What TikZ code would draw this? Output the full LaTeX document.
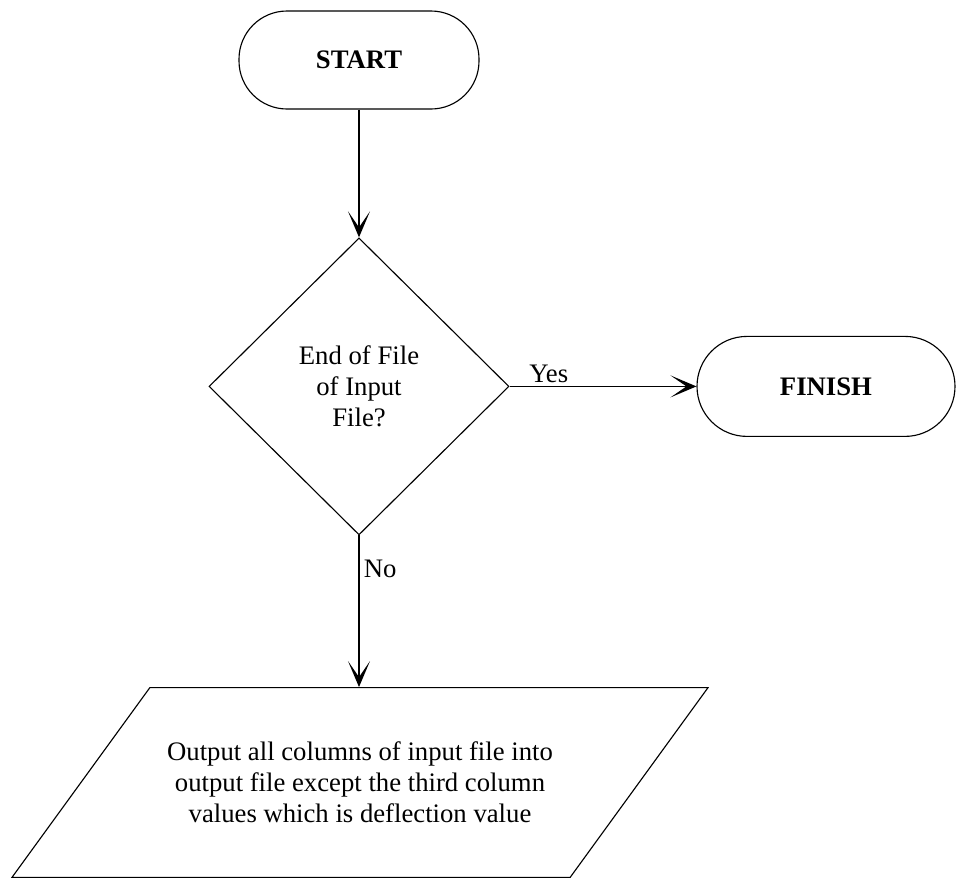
\documentclass[tikz,border=0pt]{standalone}
\usepackage{fontspec}
\setmainfont{Liberation Serif}
\usepackage{tikz}
\usetikzlibrary{shapes.geometric,arrows.meta,positioning}

\begin{document}
\begin{tikzpicture}[
            font=\fontsize{19}{22}\selectfont,
            terminal/.style={draw, line width=0.8pt, minimum height=2.45cm,
                  rounded corners=1.2cm, font=\fontsize{19}{22}\selectfont\bfseries},
            decision/.style={draw, diamond, line width=0.8pt, inner sep=0pt,
                  align=center},
            iobox/.style={draw, trapezium, trapezium left angle=54,
                  trapezium right angle=126, trapezium stretches body,
                  line width=0.8pt, align=center},
            flowarrow/.style={line width=1pt,
                  -{Stealth[length=6.5mm, width=5.5mm, inset=4mm]}}
        ]
            \useasboundingbox (0,0) rectangle (23.9,-22.1);
            \node[terminal, minimum width=6cm] (start) at (8.975,-1.5) {START};
            \node[decision, minimum width=7.5cm, minimum height=7.425cm]
                  (eof) at (8.975,-9.66) {End of File\\of Input\\File?};
            \node[terminal, minimum width=6.45cm, minimum height=2.5cm,
                  rounded corners=1.25cm] (finish) at (20.65,-9.66) {FINISH};
            \node[iobox, minimum width=17.4cm, inner ysep=1.36cm]
                  (output) at (9.0,-19.5625) {Output all columns of input file into\\
                  output file except the third column\\values which is deflection value};
            \draw[flowarrow] (start) -- (eof);
            \draw[flowarrow] (eof) -- node[pos=0.21, above, inner sep=2pt] {Yes} (finish);
            \draw[flowarrow] (eof.south) -- node[pos=0.22, right, inner sep=3pt] {No}
                  (eof.south |- output.north);
        \end{tikzpicture}
\end{document}
